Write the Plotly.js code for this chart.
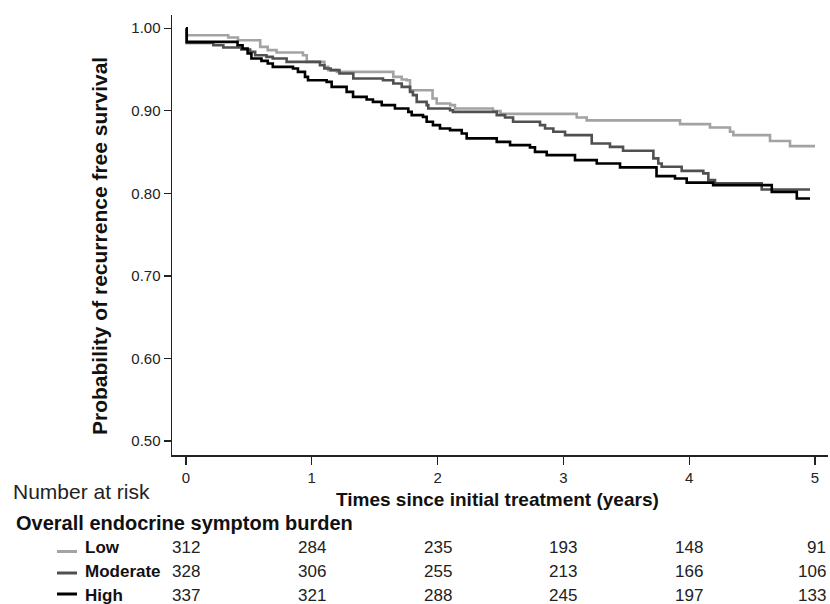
<!DOCTYPE html>
<html>
<head>
<meta charset="utf-8">
<script src="https://cdn.plot.ly/plotly-3.0.1.min.js"></script>
<style>html,body{margin:0;padding:0;background:#fff;}#chart{width:830px;height:604px;}</style>
</head>
<body>
<div id="chart"></div>
<script>
// Kaplan-Meier step points (time in years, survival probability)
var lowT = [0, 0.006, 0.336, 0.413, 0.59, 0.65, 0.72, 0.93, 0.96, 1.10, 1.13, 1.20, 1.648, 1.715, 1.754, 1.781, 1.96, 1.993, 2.10, 2.138, 2.44, 2.50, 3.106, 3.185, 3.927, 4.165, 4.324, 4.351, 4.642, 4.801, 5.0];
var lowS = [1.0, 0.9915, 0.9887, 0.9855, 0.9774, 0.9734, 0.9706, 0.9673, 0.9592, 0.9531, 0.9492, 0.9471, 0.9410, 0.9379, 0.9370, 0.9249, 0.9149, 0.9088, 0.9068, 0.9028, 0.8995, 0.8962, 0.8919, 0.8883, 0.8838, 0.8798, 0.8745, 0.8705, 0.8634, 0.8571, 0.8571];

var modT = [0, 0.006, 0.217, 0.297, 0.44, 0.51, 0.55, 0.64, 0.69, 0.80, 1.065, 1.10, 1.15, 1.22, 1.33, 1.566, 1.648, 1.715, 1.781, 1.804, 1.834, 1.913, 1.926, 2.099, 2.122, 2.47, 2.536, 2.60, 2.814, 2.854, 2.92, 3.013, 3.225, 3.37, 3.474, 3.715, 3.754, 3.781, 3.94, 4.112, 4.152, 4.205, 4.576, 4.96];
var modS = [1.0, 0.9822, 0.9794, 0.9766, 0.9742, 0.9713, 0.9673, 0.9653, 0.9633, 0.9592, 0.9552, 0.9512, 0.9492, 0.9452, 0.9391, 0.9370, 0.9331, 0.9289, 0.9229, 0.9189, 0.9108, 0.9068, 0.9028, 0.9007, 0.8987, 0.8947, 0.8919, 0.8866, 0.8826, 0.8786, 0.8745, 0.8705, 0.8604, 0.8563, 0.8515, 0.8423, 0.8362, 0.8321, 0.8272, 0.8241, 0.8160, 0.8120, 0.8047, 0.8047];

var highT = [0, 0.006, 0.41, 0.45, 0.49, 0.52, 0.60, 0.65, 0.69, 0.851, 0.89, 0.946, 0.97, 1.118, 1.158, 1.277, 1.328, 1.436, 1.486, 1.556, 1.661, 1.767, 1.794, 1.884, 1.913, 1.963, 2.019, 2.099, 2.192, 2.231, 2.47, 2.576, 2.734, 2.774, 2.867, 3.092, 3.265, 3.45, 3.74, 3.887, 3.98, 4.19, 4.656, 4.855, 4.96];
var highS = [1.0, 0.9834, 0.9794, 0.9754, 0.9694, 0.9633, 0.9604, 0.9573, 0.9531, 0.9512, 0.9471, 0.9410, 0.9370, 0.9350, 0.9289, 0.9229, 0.9168, 0.9137, 0.9108, 0.9068, 0.9028, 0.8987, 0.8947, 0.8926, 0.8866, 0.8826, 0.8786, 0.8765, 0.8725, 0.8665, 0.8623, 0.8584, 0.8556, 0.8502, 0.8462, 0.8402, 0.8362, 0.8314, 0.8208, 0.8180, 0.8130, 0.8099, 0.8018, 0.7938, 0.7938];

// Number at risk table
var riskTimes = [0, 1, 2, 3, 4, 5];
var riskLow = [312, 284, 235, 193, 148, 91];
var riskModerate = [328, 306, 255, 213, 166, 106];
var riskHigh = [337, 321, 288, 245, 197, 133];

var groupNames = ["Low", "Moderate", "High"];
var groupColors = ["#a3a3a3", "#505050", "#000000"];

var yTicks = [0.5, 0.6, 0.7, 0.8, 0.9, 1.0];
var yTickText = ["0.50", "0.60", "0.70", "0.80", "0.90", "1.00"];

var FONT = "Liberation Sans, Arial, Helvetica, sans-serif";

var curves = [[lowT, lowS], [modT, modS], [highT, highS]];
var traces = curves.map(function (c, i) {
  return {
    x: c[0], y: c[1], type: "scatter", mode: "lines",
    line: {shape: "hv", color: groupColors[i], width: 2.6},
    name: groupNames[i], hoverinfo: "skip"
  };
});

// paper coordinates helpers (plot area: left 172, right 828, top 15, bottom 455)
function px(x) { return (x - 172) / 656; }
function py(y) { return (455 - y) / 440; }

var annotations = [];
annotations.push({xref: "paper", yref: "paper", x: px(497), y: py(499), text: "<b>Times since initial treatment (years)</b>",
  showarrow: false, xanchor: "center", yanchor: "middle", font: {family: FONT, size: 19, color: "#111"}});
annotations.push({xref: "paper", yref: "paper", x: px(99), y: py(246), text: "<b>Probability of recurrence free survival</b>",
  textangle: -90, showarrow: false, xanchor: "center", yanchor: "middle", font: {family: FONT, size: 21, color: "#111"}});
annotations.push({xref: "paper", yref: "paper", x: px(11), y: py(492), text: "Number at risk",
  showarrow: false, xanchor: "left", yanchor: "middle", font: {family: FONT, size: 21, color: "#222"}});
annotations.push({xref: "paper", yref: "paper", x: px(14), y: py(523), text: "<b>Overall endocrine symptom burden</b>",
  showarrow: false, xanchor: "left", yanchor: "middle", font: {family: FONT, size: 20, color: "#111"}});

var rowY = [547, 571, 595];
var lineY = [551.5, 573, 594];
var rows = [riskLow, riskModerate, riskHigh];
var shapes = [];
rows.forEach(function (vals, r) {
  annotations.push({xref: "paper", yref: "paper", x: px(83), y: py(rowY[r]), text: "<b>" + groupNames[r] + "</b>",
    showarrow: false, xanchor: "left", yanchor: "middle", font: {family: FONT, size: 17, color: "#111"}});
  shapes.push({type: "line", xref: "paper", yref: "paper", x0: px(57), x1: px(77), y0: py(lineY[r]), y1: py(lineY[r]),
    line: {color: groupColors[r], width: 3}});
  vals.forEach(function (v, j) {
    var last = (j === vals.length - 1);
    annotations.push({xref: "x", yref: "paper", x: riskTimes[j], y: py(rowY[r]), text: String(v),
      showarrow: false, xanchor: last ? "right" : "center", xshift: last ? 13 : 0, yanchor: "middle",
      font: {family: FONT, size: 17, color: "#222"}});
  });
});

var layout = {
  width: 830, height: 604,
  margin: {l: 172, r: 2, t: 15, b: 149},
  paper_bgcolor: "#fff", plot_bgcolor: "#fff",
  showlegend: false,
  font: {family: FONT, color: "#222"},
  xaxis: {
    range: [-0.111, 5.103], tickvals: riskTimes, ticktext: riskTimes.map(String),
    ticks: "outside", ticklen: 8, tickwidth: 1.3, tickcolor: "#222",
    showline: true, linecolor: "#222", linewidth: 1.5, showgrid: false, zeroline: false,
    tickfont: {family: FONT, size: 15, color: "#222"}
  },
  yaxis: {
    range: [0.483, 1.016], tickvals: yTicks, ticktext: yTickText,
    ticks: "outside", ticklen: 7, tickwidth: 1.3, tickcolor: "#222",
    showline: true, linecolor: "#222", linewidth: 1.5, showgrid: false, zeroline: false,
    tickfont: {family: FONT, size: 15, color: "#222"}
  },
  annotations: annotations,
  shapes: shapes
};

Plotly.newPlot("chart", traces, layout, {displayModeBar: false, staticPlot: true});
</script>
</body>
</html>
